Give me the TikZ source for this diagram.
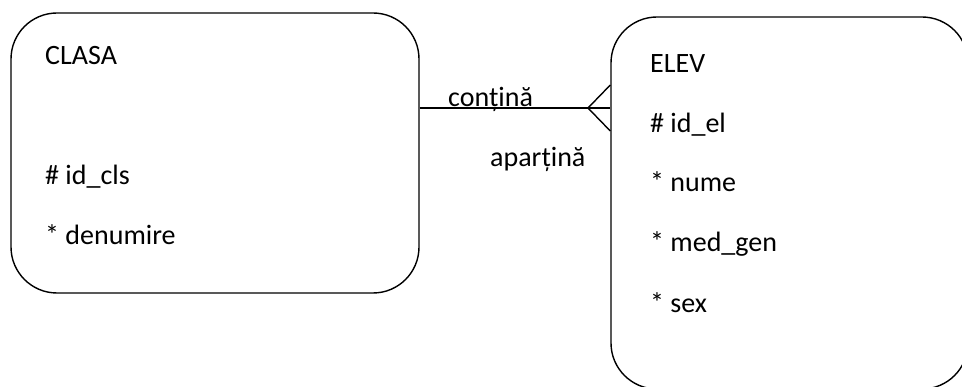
\documentclass[tikz,border=0pt]{standalone}
\usepackage{fontspec}
\setmainfont{Carlito}
\begin{document}
\begin{tikzpicture}[x=1pt,y=-1pt,
  entity/.style={draw, line width=1.4pt, rounded corners=46pt, inner sep=0pt},
  txt/.style={anchor=base west, inner sep=0pt, font=\fontsize{28}{32}\selectfont},
  conn/.style={line width=1.4pt}]
\useasboundingbox (0,0) rectangle (962,387);
\clip (0,0) rectangle (962,387);
\node[entity, minimum width=408pt, minimum height=280pt] (clasa) at (215,153) {};
\node[entity, minimum width=357pt, minimum height=372pt] (elev) at (789.5,203) {};
\node[txt] (t1) at (45,65) {CLASA};
\node[txt] (t2) at (45,185) {\# id\_cls};
\node[txt] (t3) at (45,245) {* denumire};
\node[txt] (t4) at (650,73) {ELEV};
\node[txt] (t5) at (650,133) {\# id\_el};
\node[txt] (t6) at (650,192) {* nume};
\node[txt] (t7) at (650,252) {* med\_gen};
\node[txt] (t8) at (650,313) {* sex};
\node[txt] (r1) at (448,107) {conțină};
\node[txt] (r2) at (490,167) {aparțină};
\coordinate (apex) at (588,108);
\draw[conn] (clasa.east |- apex) -- (elev.west |- apex);
\draw[conn] (elev.west |- 0,85) -- (apex) -- (elev.west |- 0,131);
\end{tikzpicture}
\end{document}
